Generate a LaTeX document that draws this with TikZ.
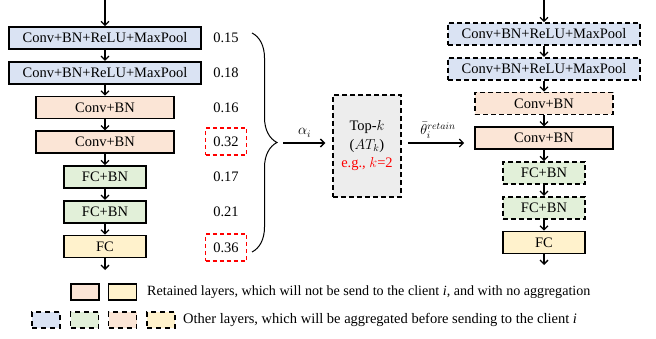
\documentclass[tikz,border=0pt]{standalone}
\usepackage{fontspec}
\setmainfont{Liberation Serif}
\usepackage{amsmath}
\usetikzlibrary{arrows.meta}
\usetikzlibrary{decorations.pathreplacing}

\definecolor{convblue}{HTML}{DAE3F3}
\definecolor{bnpink}{HTML}{FBE5D6}
\definecolor{fcgreen}{HTML}{E2F0D9}
\definecolor{fcyellow}{HTML}{FFF2CC}
\definecolor{topgray}{HTML}{EDEDED}

\begin{document}
\begin{tikzpicture}[x=1pt, y=-1pt,
    every node/.style={font=\fontsize{14.5}{17.5}\selectfont},
    layer node/.style={draw, line width=1.6pt, minimum height=22pt, inner sep=0pt},
    other node/.style={layer node, dash pattern=on 5pt off 3pt},
    wide box/.style={minimum width=192pt, fill=convblue},
    bn box/.style={minimum width=138pt, fill=bnpink},
    fc box/.style={minimum width=82pt, fill=fcgreen},
    score node/.style={minimum width=41pt, minimum height=27pt, inner sep=0pt},
    pick/.style={draw=red, line width=1.4pt, dash pattern=on 4pt off 3pt},
    flow/.style={-{Straight Barb[length=4pt,width=8pt]}, line width=1.3pt},
    key node/.style={minimum width=28pt, minimum height=16pt, inner sep=0pt},
    ]
  \useasboundingbox (0,0) rectangle (656,339);
  \def\xL{105}
  \def\xR{544}
  \def\xS{226}

  % local model with scores
  \coordinate (in L) at (\xL,0);
  \node[layer node, wide box] (l1) at (\xL,38) {Conv+BN+ReLU+MaxPool};
  \node[layer node, wide box] (l2) at (\xL,72.75) {Conv+BN+ReLU+MaxPool};
  \node[layer node, bn box] (l3) at (\xL,107.5) {Conv+BN};
  \node[layer node, bn box] (l4) at (\xL,142.25) {Conv+BN};
  \node[layer node, fc box] (l5) at (\xL,177) {FC+BN};
  \node[layer node, fc box] (l6) at (\xL,211.75) {FC+BN};
  \node[layer node, fc box, fill=fcyellow] (l7) at (\xL,246.5) {FC};
  \coordinate (out L) at (\xL,270);

  \node[score node] (s1) at (\xS,38) {0.15};
  \node[score node] (s2) at (\xS,72.75) {0.18};
  \node[score node] (s3) at (\xS,107.5) {0.16};
  \node[score node, pick] (s4) at (\xS,141.5) {0.32};
  \node[score node] (s5) at (\xS,177) {0.17};
  \node[score node] (s6) at (\xS,211.75) {0.21};
  \node[score node, pick] (s7) at (\xS,247.5) {0.36};

  \draw[flow] (in L) -- (l1);
  \draw[flow] (l1) -- (l2);
  \draw[flow] (l2) -- (l3);
  \draw[flow] (l3) -- (l4);
  \draw[flow] (l4) -- (l5);
  \draw[flow] (l5) -- (l6);
  \draw[flow] (l6) -- (l7);
  \draw[flow] (l7) -- (out L);

  % brace and selection
  \coordinate (brace top) at (252,33);
  \coordinate (brace bot) at (252,252);
  \coordinate (brace tip) at (277,143);
  \draw[line width=1pt, decorate, decoration={brace, amplitude=25pt}] (brace top) -- (brace bot);

  \node[draw, line width=1.5pt, dash pattern=on 5pt off 3pt, fill=topgray,
        minimum width=68pt, minimum height=102pt, align=center,
        font=\fontsize{14.5}{18.5}\selectfont] (topk) at (367,146)
        {Top-$k$\\($AT_k$)\\{\color{red}e.g., $k$=2}};

  \draw[flow, shorten <=6pt, shorten >=7pt] (brace tip) -- node[above=2pt] {$\alpha_i$} (brace tip -| topk.west);

  % personalized model
  \coordinate (in R) at (\xR,0);
  \node[other node, wide box] (r1) at (\xR,34) {Conv+BN+ReLU+MaxPool};
  \node[other node, wide box] (r2) at (\xR,68.75) {Conv+BN+ReLU+MaxPool};
  \node[other node, bn box] (r3) at (\xR,103.5) {Conv+BN};
  \node[layer node, bn box] (r4) at (\xR,138.25) {Conv+BN};
  \node[other node, fc box] (r5) at (\xR,173) {FC+BN};
  \node[other node, fc box] (r6) at (\xR,207.75) {FC+BN};
  \node[layer node, fc box, fill=fcyellow] (r7) at (\xR,242.5) {FC};
  \coordinate (out R) at (\xR,265);

  \draw[flow] (in R) -- (r1);
  \draw[flow] (r1) -- (r2);
  \draw[flow] (r2) -- (r3);
  \draw[flow] (r3) -- (r4);
  \draw[flow] (r4) -- (r5);
  \draw[flow] (r5) -- (r6);
  \draw[flow] (r6) -- (r7);
  \draw[flow] (r7) -- (out R);

  \coordinate (topk out) at ([yshift=3pt]topk.east);
  \draw[flow, shorten <=6pt, shorten >=10pt] (topk out) -- node[above=1pt] {$\bar{\theta}_i^{retain}$} (topk out -| r4.west);

  % legend
  \node[key node, draw, line width=1.6pt, fill=bnpink] (k1) at (85,292) {};
  \node[key node, draw, line width=1.6pt, fill=fcyellow] (k2) at (122.5,292) {};
  \node[anchor=west, inner sep=0pt, font=\fontsize{14.1}{17}\selectfont] (t1) at (147,292) {Retained layers, which will not be send to the client \textit{i}, and with no aggregation};

  \node[key node, draw, line width=1.5pt, dash pattern=on 5pt off 4pt, fill=convblue] (k3) at (46,320) {};
  \node[key node, draw, line width=1.5pt, dash pattern=on 5pt off 4pt, fill=fcgreen] (k4) at (84.5,320) {};
  \node[key node, draw, line width=1.5pt, dash pattern=on 5pt off 4pt, fill=bnpink] (k5) at (122.5,320) {};
  \node[key node, draw, line width=1.5pt, dash pattern=on 5pt off 4pt, fill=fcyellow] (k6) at (161,320) {};
  \node[anchor=west, inner sep=0pt] (t2) at (183,320) {Other layers, which will be aggregated before sending to the client \textit{i}};
\end{tikzpicture}
\end{document}
